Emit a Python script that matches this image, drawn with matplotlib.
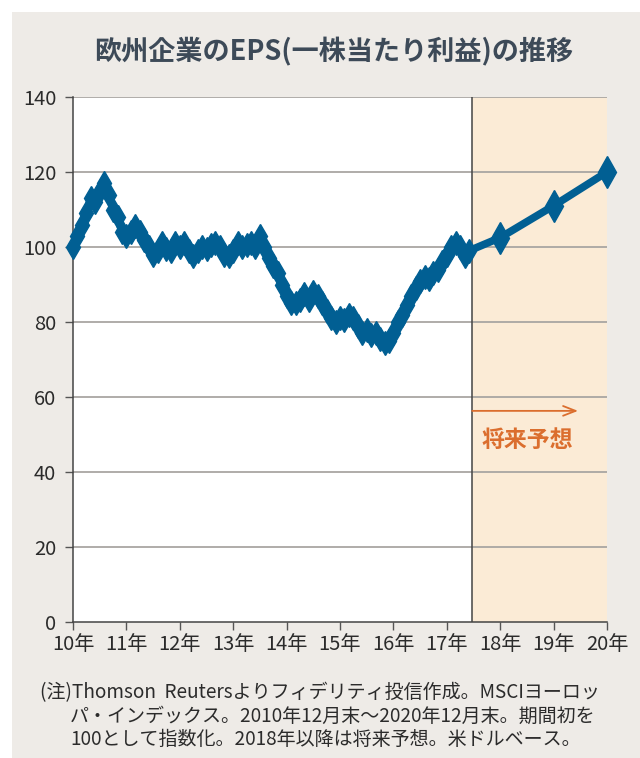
import matplotlib
matplotlib.use('Agg')
import matplotlib.pyplot as plt
import matplotlib.patches as mpatches

plt.rcParams['font.family'] = ['Noto Sans CJK JP', 'DejaVu Sans']

# ── data: monthly index, Dec 2010 = 100 ──────────────────────────────────────
actual_eps = [
    100, 103, 106, 109, 113, 112, 115, 117, 114, 110,
    108, 104, 103, 104, 105.5, 104, 102, 100, 98, 99,
    101, 99.5, 99, 101, 100, 101, 99, 97.5, 99, 100,
    99.5, 100.5, 101, 100, 98, 97.5, 99, 101, 100, 100.5,
    101, 100, 103, 100, 97, 95, 93, 90, 87, 85,
    85, 86, 87.5, 86, 88, 87, 85, 83, 81, 80,
    81, 80.5, 82, 81, 79, 77, 78, 76.5, 77, 75.5,
    74.5, 75, 77, 80, 82, 84.5, 87, 89, 91, 92,
    91.5, 93, 94, 96, 98, 100, 101, 100, 97.5, 99,
]
forecast_month = [96, 108, 120]
forecast_eps = [102.5, 111, 120]
year_labels = ['10年', '11年', '12年', '13年', '14年', '15年',
               '16年', '17年', '18年', '19年', '20年']
y_ticks = [0, 20, 40, 60, 80, 100, 120, 140]

title = '欧州企業のEPS(一株当たり利益)の推移'
note_lines = [
    '(注)Thomson  Reutersよりフィデリティ投信作成。MSCIヨーロッ',
    'パ・インデックス。2010年12月末～2020年12月末。期間初を',
    '100として指数化。2018年以降は将来予想。米ドルベース。',
]

BLUE = '#015F93'
ORANGE = '#DB6E2E'
BG = '#EEEBE7'
FCST_BG = '#FBEBD6'
TXT = '#2B2B2B'

fig = plt.figure(figsize=(6.4, 7.58), dpi=100)
fig.patch.set_facecolor('white')

# grey panel behind everything
bg_ax = fig.add_axes([0, 0, 1, 1], zorder=-10)
bg_ax.axis('off')
bg_ax.add_patch(mpatches.Rectangle((12 / 640, 0), 1, (758 - 12) / 758,
                                   transform=bg_ax.transAxes,
                                   facecolor=BG, edgecolor='none'))

ax = fig.add_axes([73 / 640, 136 / 758, 534 / 640, 525 / 758])
ax.set_facecolor('white')

months = list(range(len(actual_eps)))
boundary = months[-1] + 0.7

ax.axvspan(boundary, 120, color=FCST_BG, zorder=0, lw=0)
for v in y_ticks[1:]:
    ax.axhline(v, color='#A9A6A3', lw=1.3, zorder=1)
ax.axvline(boundary, color='#444444', lw=1.1, zorder=2)

ax.plot(months, actual_eps, color=BLUE, lw=5.5, marker='d', markersize=12,
        zorder=4, clip_on=False)
ax.plot([months[-1]] + forecast_month, [actual_eps[-1]] + forecast_eps,
        color=BLUE, lw=5.5, zorder=4)
ax.plot(forecast_month, forecast_eps, ls='none', color=BLUE, marker='d',
        markersize=16, zorder=5, clip_on=False)

# forecast label
ax.annotate('', xy=(113.5, 56.3), xytext=(boundary, 56.3),
            arrowprops=dict(arrowstyle='->,head_length=0.9,head_width=0.35',
                            color=ORANGE, lw=1.3, shrinkA=0, shrinkB=0))
ax.text(102, 48.5, '将来予想', color=ORANGE, fontsize=16.5, fontweight='bold',
        ha='center', va='center', zorder=6)

ax.set_xlim(0, 120)
ax.set_ylim(0, 140)
ax.set_xticks(range(0, 121, 12))
ax.set_xticklabels(year_labels)
ax.set_yticks(y_ticks)
ax.tick_params(axis='both', labelsize=14.5, colors='#555555', labelcolor=TXT,
               length=6, width=1.0, direction='out')
ax.tick_params(axis='x', pad=3)
ax.tick_params(axis='y', pad=6)
for s in ['top', 'right']:
    ax.spines[s].set_visible(False)
for s in ['left', 'bottom']:
    ax.spines[s].set_color('#444444')
    ax.spines[s].set_linewidth(1.1)

fig.text(334 / 640, 1 - 52 / 758, title, ha='center', va='center',
         fontsize=19.5, fontweight='bold', color='#3D4A58')

fig.text(40 / 640, 1 - 693 / 758, note_lines[0], ha='left', va='center',
         fontsize=13.7, color=TXT)
fig.text(70 / 640, 1 - 716 / 758, note_lines[1], ha='left', va='center',
         fontsize=13.7, color=TXT)
fig.text(70 / 640, 1 - 739 / 758, note_lines[2], ha='left', va='center',
         fontsize=13.7, color=TXT)

fig.savefig('out.png', dpi=100, facecolor=fig.get_facecolor())
